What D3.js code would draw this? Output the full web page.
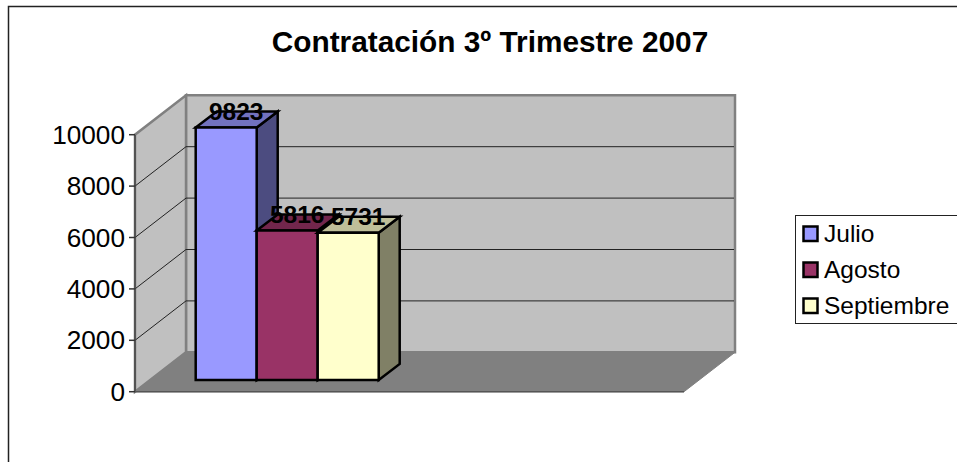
<!DOCTYPE html>
<html><head><meta charset="utf-8">
<script src="https://cdnjs.cloudflare.com/ajax/libs/d3/7.8.5/d3.min.js"></script>
<style>html,body{margin:0;padding:0;background:#fff;overflow:hidden}svg{display:block}text{font-family:"Liberation Sans",Arial,sans-serif;fill:#000}</style>
</head><body><svg id="c" width="957" height="462"></svg>
<script>
const title = "Contratación 3º Trimestre 2007";
const series = ["Julio","Agosto","Septiembre"];
const values = [9823,5816,5731];
const fills = ["#9999FF","#993366","#FFFFCC"];
const tops = ["#7272BE","#72264C","#BFBF99"];
const sides = ["#4C4C80","#4C1A33","#808066"];
const ticks = [0,2000,4000,6000,8000,10000];

const svg = d3.select("#c");
const W = {fx:135, fy:391.7, bx:186, by:352.3, rx:735, h:257};
const y = d3.scaleLinear().domain([0,10000]).range([0,W.h]);
const x = d3.scaleBand().domain(series).range([195.7,378.7]);
const line = d3.line();
const poly = (pts,fill,stroke,sw) => svg.append("path").attr("d",line(pts)+"Z").attr("fill",fill)
  .attr("stroke",stroke).attr("stroke-width",sw).attr("stroke-linejoin","miter");

// frame
svg.append("rect").attr("x",8.5).attr("y",6.5).attr("width",1000).attr("height",1000)
  .attr("fill","#fff").attr("stroke","#222").attr("stroke-width",1.5);

// title
svg.append("text").attr("x",490).attr("y",52).attr("text-anchor","middle")
  .attr("font-size",29.8).attr("font-weight","bold").text(title);

// walls
const dx=W.bx-W.fx, dy=W.fy-W.by;
poly([[W.bx,W.by],[W.rx,W.by],[W.rx,W.by-W.h],[W.bx,W.by-W.h]],"#C0C0C0","#808080",2.5);
poly([[W.fx,W.fy],[W.bx,W.by],[W.bx,W.by-W.h],[W.fx,W.fy-W.h]],"#C0C0C0","#808080",2.5);
poly([[W.fx,W.fy],[W.bx,W.by],[W.rx,W.by],[W.rx-dx,W.fy]],"#808080","#808080",1);

// grid
ticks.slice(1,-1).forEach(t=>{
  const yy=y(t);
  svg.append("path").attr("d",line([[W.fx,W.fy-yy],[W.bx,W.by-yy],[W.rx-1,W.by-yy]]))
    .attr("fill","none").attr("stroke","#222").attr("stroke-width",1);
});

// axes
svg.append("path").attr("d",line([[W.fx,W.fy-W.h],[W.fx,W.fy]])).attr("stroke","#444").attr("stroke-width",1.5).attr("fill","none");
svg.append("path").attr("d",line([[W.fx,W.fy],[W.rx-dx,W.fy]])).attr("stroke","#555").attr("stroke-width",1.5).attr("fill","none");
ticks.forEach(t=>{
  const yy=W.fy-y(t);
  svg.append("path").attr("d",line([[W.fx-6,yy],[W.fx,yy]])).attr("stroke","#333").attr("stroke-width",1.5);
  svg.append("text").attr("x",125).attr("y",yy+9).attr("text-anchor","end").attr("font-size",26.2).text(t);
});

// bars
const base=380, ddx=21, ddy=16;
series.forEach((s,i)=>{
  const l=x(s), r=l+x.bandwidth(), t=base-y(values[i]);
  poly([[r,base],[r+ddx,base-ddy],[r+ddx,t-ddy],[r,t]],sides[i],"#000",2.5);
  poly([[l,t],[l+ddx,t-ddy],[r+ddx,t-ddy],[r,t]],tops[i],"#000",2.5);
  poly([[l,base],[r,base],[r,t],[l,t]],fills[i],"#000",2.5);
});
series.forEach((s,i)=>{
  const t=base-y(values[i]);
  svg.append("text").attr("x",x(s)+x.bandwidth()/2+10).attr("y",t-7.5)
    .attr("text-anchor","middle").attr("font-size",24.5).attr("font-weight","bold").text(values[i]);
});

// legend
svg.append("rect").attr("x",795.5).attr("y",215.5).attr("width",200).attr("height",108)
  .attr("fill","#fff").attr("stroke","#222").attr("stroke-width",1);
series.forEach((s,i)=>{
  const yy=226.5+36*i;
  svg.append("rect").attr("x",803.5).attr("y",yy).attr("width",14).attr("height",14.5)
    .attr("fill",fills[i]).attr("stroke","#000").attr("stroke-width",2.5);
  svg.append("text").attr("x",824).attr("y",yy+15.5).attr("font-size",24.5).text(s);
});
</script></body></html>
